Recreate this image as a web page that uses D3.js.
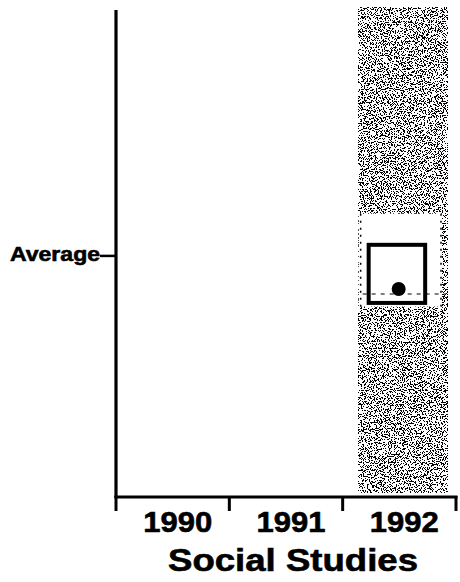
<!DOCTYPE html>
<html><head><meta charset="utf-8">
<script src="https://cdn.jsdelivr.net/npm/d3@7"></script>
<style>html,body{margin:0;padding:0;background:#fff;}svg{display:block;}</style>
</head><body>
<script>
// ---- data ----
const years = ["1990", "1991", "1992"];
const averageValue = 0;                 // national average (reference line)
const yDomain = [-1, 1.02];
const bandYear = ["1992"];
const bandRange = [[-0.983, 1.03]];     // shaded range for 1992
const notDiffRange = [[-0.21, 0.175]];  // lighter (not significantly different) zone
const ciLow = [-0.195];                 // confidence box bottom
const ciHigh = [0.046];                 // confidence box top
const pointValue = [-0.137];            // state estimate
const dashValue = [-0.158];
const axisTitle = "Social Studies";
const avgLabel = "Average";

const W = 460, H = 582;
const svg = d3.select("body").append("svg").attr("width", W).attr("height", H);
const defs = svg.append("defs");
const f = defs.append("filter").attr("id","stipple").attr("x",0).attr("y",0).attr("width",1).attr("height",1)
  .attr("filterUnits","objectBoundingBox");
f.append("feTurbulence").attr("type","fractalNoise").attr("baseFrequency","0.85").attr("numOctaves",2).attr("seed",7).attr("result","n");
f.append("feColorMatrix").attr("in","n").attr("type","matrix")
  .attr("values","0 0 0 0 0  0 0 0 0 0  0 0 0 0 0  1 0 0 0 0").attr("result","a");
const ct = f.append("feComponentTransfer").attr("in","a");
ct.append("feFuncA").attr("type","discrete").attr("tableValues","0 0 0 0 0 0 0 0 0 0 0 1 1 1 1 1 1 1 1 1");

const x = d3.scaleBand().domain(years).range([116, 456]).paddingInner(0).paddingOuter(0);
const y = d3.scaleLinear().domain(yDomain).range([497, 10]);

const font = "'Liberation Sans', Arial, Helvetica, sans-serif";

// shaded band
bandYear.forEach((yr, i) => {
  const x0 = x(yr) + 16, x1 = x(yr) + x.bandwidth() - 8;
  svg.append("rect").attr("x", x0).attr("y", y(bandRange[i][1])).attr("width", x1 - x0)
    .attr("height", y(bandRange[i][0]) - y(bandRange[i][1])).attr("fill", "#000").attr("filter", "url(#stipple)");
  // lighter zone
  svg.append("rect").attr("x", x0).attr("y", y(notDiffRange[i][1])).attr("width", x1 - x0 - 6)
    .attr("height", y(notDiffRange[i][0]) - y(notDiffRange[i][1])).attr("fill", "#fff");
  [x0 + 2, x1 - 7].forEach(xx => {
    svg.append("line").attr("x1", xx).attr("x2", xx).attr("y1", y(notDiffRange[i][1]))
      .attr("y2", y(notDiffRange[i][0])).attr("stroke", "#000").attr("stroke-width", 1.5)
      .attr("stroke-dasharray", "2,5");
  });
  // dashed line
  svg.append("line").attr("x1", x0 + 4).attr("x2", x1 - 2).attr("y1", y(dashValue[i])).attr("y2", y(dashValue[i]))
    .attr("stroke", "#000").attr("stroke-width", 1.2).attr("stroke-dasharray", "4,5");
  // confidence box
  const bx0 = x(yr) + 26, bx1 = x(yr) + 82.5;
  svg.append("rect").attr("x", bx0).attr("y", y(ciHigh[i])).attr("width", bx1 - bx0)
    .attr("height", y(ciLow[i]) - y(ciHigh[i])).attr("fill", "none").attr("stroke", "#000").attr("stroke-width", 4);
  svg.append("circle").attr("cx", x(yr) + 56).attr("cy", y(pointValue[i])).attr("r", 7).attr("fill", "#000");
});

// y axis
svg.append("line").attr("x1", 116).attr("x2", 116).attr("y1", y(yDomain[1])).attr("y2", y(yDomain[0]) + 1)
  .attr("stroke", "#000").attr("stroke-width", 3.2);
svg.append("line").attr("x1", 100).attr("x2", 116).attr("y1", y(averageValue)).attr("y2", y(averageValue))
  .attr("stroke", "#000").attr("stroke-width", 2.5);
svg.append("text").attr("x", 100).attr("y", y(averageValue) + 5).attr("text-anchor", "end")
  .attr("font-family", font).attr("font-weight", "bold").attr("font-size", 20)
  .attr("stroke", "#000").attr("stroke-width", 0.6)
  .attr("textLength", 90).attr("lengthAdjust", "spacingAndGlyphs").text(avgLabel);

// x axis
svg.append("line").attr("x1", 114.5).attr("x2", 457.5).attr("y1", 497).attr("y2", 497)
  .attr("stroke", "#000").attr("stroke-width", 3.2);
const tickXs = years.map(d => x(d)).concat([x(years[years.length - 1]) + x.bandwidth()]);
tickXs.forEach((tx, i) => {
  svg.append("line").attr("x1", tx).attr("x2", tx).attr("y1", 496).attr("y2", 511)
    .attr("stroke", "#000").attr("stroke-width", 3);
});
svg.selectAll(".yr").data(years).enter().append("text")
  .attr("x", d => x(d) + x.bandwidth() / 2 + 5).attr("y", 532).attr("text-anchor", "middle")
  .attr("font-family", font).attr("font-weight", "bold").attr("font-size", 30)
  .attr("stroke", "#000").attr("stroke-width", 0.6)
  .attr("textLength", 69).attr("lengthAdjust", "spacingAndGlyphs").text(d => d);
svg.append("text").attr("x", 293).attr("y", 571).attr("text-anchor", "middle")
  .attr("font-family", font).attr("font-weight", "bold").attr("font-size", 32)
  .attr("stroke", "#000").attr("stroke-width", 0.6)
  .attr("textLength", 250).attr("lengthAdjust", "spacingAndGlyphs").text(axisTitle);
</script>
</body></html>
